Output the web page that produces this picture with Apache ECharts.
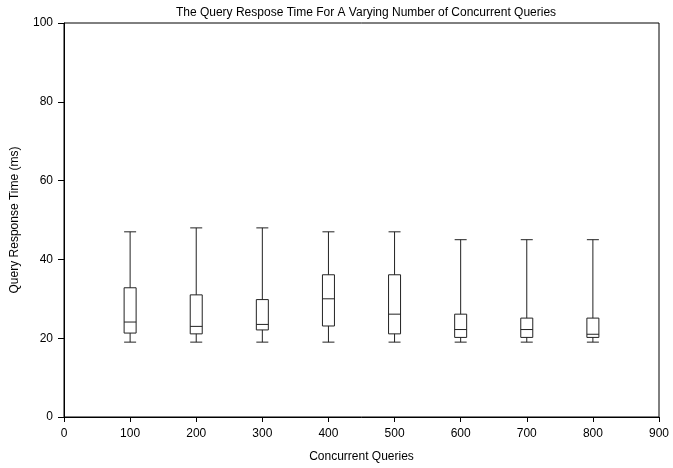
<!DOCTYPE html>
<html>
<head>
<meta charset="utf-8">
<script src="https://cdn.jsdelivr.net/npm/echarts@6/dist/echarts.min.js"></script>
<style>html,body{margin:0;padding:0;background:#fff}#c{width:673px;height:468px}</style>
</head>
<body>
<div id="c"></div>
<script>
var xTicks = ['0','100','200','300','400','500','600','700','800','900'];
var boxCats = ['100','200','300','400','500','600','700','800'];
var mins    = [19, 19, 19, 19, 19, 19, 19, 19];
var q1s     = [21.3, 21.1, 22.1, 23.1, 21.1, 20.2, 20.2, 20.2];
var medians = [24.1, 23.0, 23.5, 30.0, 26.1, 22.2, 22.2, 21.0];
var q3s     = [32.8, 31.0, 29.8, 36.1, 36.1, 26.1, 25.1, 25.1];
var maxs    = [47, 48, 48, 47, 47, 45, 45, 45];

var boxData = boxCats.map(function (c, i) {
  return [c, mins[i], q1s[i], medians[i], q3s[i], maxs[i]];
});

var font = 'Liberation Sans, Arial, Helvetica, sans-serif';
var chart = echarts.init(document.getElementById('c'));
chart.setOption({
  animation: false,
  backgroundColor: '#fff',
  title: {
    text: 'The Query Respose Time For A Varying Number of Concurrent Queries',
    left: 361, top: 2, textAlign: 'center',
    textStyle: {fontFamily: font, fontSize: 12, fontWeight: 'normal', color: '#000'}
  },
  grid: {left: 64, right: 14, top: 23, bottom: 49, show: true, borderColor: '#000', borderWidth: 1},
  xAxis: {
    type: 'category', data: xTicks, boundaryGap: false,
    name: 'Concurrent Queries', nameLocation: 'middle', nameGap: 34,
    nameTextStyle: {fontFamily: font, fontSize: 12, color: '#000'},
    axisLine: {lineStyle: {color: '#000', width: 1}},
    axisTick: {show: true, length: 5, alignWithLabel: true, lineStyle: {color: '#000'}},
    axisLabel: {fontFamily: font, fontSize: 12, color: '#000', margin: 11, interval: 0},
    splitLine: {show: false}
  },
  yAxis: {
    type: 'value', min: 0, max: 100, interval: 20,
    name: 'Query Response Time (ms)', nameLocation: 'middle', nameGap: 43,
    nameTextStyle: {fontFamily: font, fontSize: 12, color: '#000'},
    axisLine: {show: true, lineStyle: {color: '#000', width: 1}},
    axisTick: {show: true, length: 6, lineStyle: {color: '#000'}},
    axisLabel: {fontFamily: font, fontSize: 12, color: '#000', margin: 11},
    splitLine: {show: false}
  },
  series: [{
    type: 'boxplot',
    data: boxData,
    dimensions: ['cat', 'min', 'Q1', 'median', 'Q3', 'max'],
    encode: {x: 0, y: [1, 2, 3, 4, 5]},
    boxWidth: [12, 12],
    itemStyle: {color: '#fff', borderColor: '#222', borderWidth: 1},
    emphasis: {disabled: true}
  }]
});
</script>
</body>
</html>
